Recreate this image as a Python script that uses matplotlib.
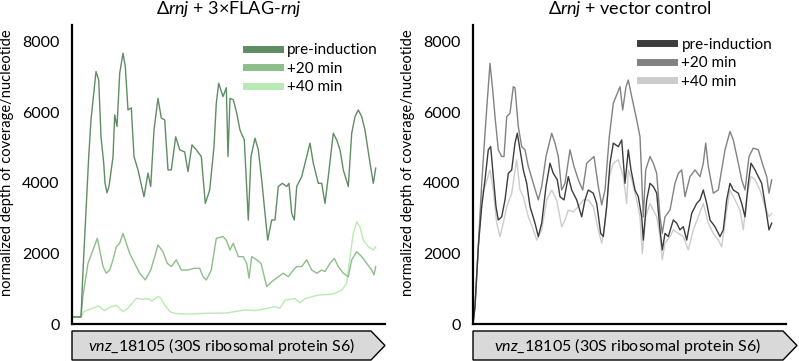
import matplotlib
matplotlib.use('Agg')
import matplotlib.pyplot as plt
import numpy as np
from matplotlib.patches import Polygon

plt.rcParams['font.family'] = ['Lato', 'DejaVu Sans']
plt.rcParams['mathtext.fontset'] = 'custom'
plt.rcParams['mathtext.rm'] = 'Lato'
plt.rcParams['mathtext.it'] = 'Lato:italic'

# coverage traces: [position, normalized depth]
flag_pre = np.array([
    [0, 200], [9, 200], [11, 1500], [16.7, 4740], [19, 5790], [24, 7160], [26.7, 6920], [29, 5310],
    [31.7, 4570], [33, 4000], [35, 3720], [37, 3900], [41, 4740], [42.7, 5930], [45, 5600], [47.7, 7110],
    [51, 7680], [53.3, 7300], [56, 6070], [59.3, 6130], [62, 4750], [66, 4370], [72, 3610], [76, 4280],
    [78.7, 3900], [82, 5500], [86, 6400], [89.3, 5840], [92.7, 5790], [96, 4370], [99.3, 4370], [103.7, 5310],
    [107.7, 4940], [112.7, 4880], [116, 4320], [120, 5080], [124.3, 4940], [129.3, 4750], [133.3, 3420],
    [137.7, 3800], [142, 5030], [144.3, 6260], [146.7, 6830], [151, 6450], [154.3, 6700], [156, 4750],
    [158, 6400], [161.3, 6360], [164.7, 5980], [168, 5500], [172.3, 5220], [176.3, 2950], [179, 4750],
    [183, 5270], [186.3, 4940], [189.7, 4090], [193, 3140], [195.7, 2380], [199.7, 2950], [203, 2950],
    [206.3, 3900], [210.3, 3990], [214.7, 3900], [217, 3990], [219.7, 3140], [222.3, 2950], [224.7, 3900],
    [229.7, 4180], [234.7, 4750], [238, 5130], [241.3, 4560], [246.3, 3990], [249.7, 3990], [253, 3420],
    [256.3, 4180], [261.3, 5410], [264.7, 5220], [268, 4940], [271.3, 4370], [276.3, 3900], [279.7, 5410],
    [283, 5880], [286.3, 6070], [289.7, 5880], [293, 5500], [297, 4750], [301.3, 3990], [303.7, 4420]])
flag_20 = np.array([
    [0, 200], [9, 200], [11, 800], [16, 1720], [21, 2100], [25.3, 2430], [27.7, 2100], [31, 1630],
    [34.3, 1440], [37.7, 1530], [41, 1820], [44.3, 2190], [47.7, 2290], [51, 2570], [54.3, 2290], [57.7, 2000],
    [62.7, 1720], [67.7, 1440], [73.3, 1250], [78.7, 1530], [82.7, 1910], [86, 2240], [91, 2050], [95.3, 1720],
    [99.3, 1630], [104.3, 1820], [109.3, 1530], [116, 1530], [122, 1580], [127.7, 1580], [131, 1340],
    [134.3, 1250], [139.3, 1530], [144.3, 2430], [151, 2480], [154.3, 2380], [158, 2100], [161.3, 2290],
    [166.3, 1910], [171.3, 1910], [174.7, 1720], [177, 1300], [179.7, 1910], [184.7, 1820], [189, 1720],
    [192.3, 1340], [194.7, 1060], [199.7, 1200], [206.3, 1340], [211.3, 1440], [216.3, 1340], [221.3, 1530],
    [224.7, 1630], [229.7, 1630], [234.7, 1820], [239.7, 1530], [244.7, 1440], [249.7, 1530], [253, 1490],
    [258, 1720], [262.3, 1860], [266.3, 1630], [271.3, 1440], [276.3, 1340], [279.7, 1820], [284.7, 2050],
    [289.7, 1910], [294.7, 1720], [299.7, 1530], [302, 1390], [303.7, 1630]])
flag_40 = np.array([
    [0, 200], [9, 200], [12, 350], [16, 400], [21, 450], [26, 510], [32.7, 380], [38, 480], [44.3, 530],
    [51, 350], [56, 450], [64.3, 730], [70, 700], [76, 720], [80, 650], [86, 780], [89, 720], [92.7, 540],
    [98, 350], [102.7, 300], [118, 280], [129.3, 300], [143, 310], [154.3, 310], [173, 400], [183, 380],
    [194.7, 440], [203, 490], [208, 450], [213, 680], [223, 720], [228, 600], [233, 720], [246.3, 820],
    [258, 840], [263, 870], [269.7, 960], [274.7, 1150], [278, 1910], [281.3, 2570], [284.7, 2900],
    [288, 2750], [291.3, 2380], [296.3, 2190], [301.3, 2100], [303.7, 2190]])

vec_pre = np.array([
    [0, 0], [1, 250], [2, 490], [5.3, 2190], [8.7, 3330], [12, 4090], [15.3, 4940], [17.7, 5030], [20.3, 4180],
    [23, 3330], [25.3, 2950], [28.7, 3040], [32, 3520], [35.3, 4270], [38.7, 4370], [42, 5130], [44.3, 5410],
    [47, 4940], [50.3, 4370], [53.7, 3990], [57, 3330], [62, 2860], [65.3, 2480], [68.7, 2860], [73, 3900],
    [77, 4560], [80.3, 4270], [84.3, 4090], [87, 3610], [91, 3520], [95.3, 4180], [98.7, 3800], [103.7, 3520],
    [108.7, 3040], [112, 3520], [115.3, 3800], [120.3, 3710], [123.7, 3420], [127.7, 2570], [130.3, 2480],
    [133.7, 3330], [137, 4560], [140.3, 5130], [145.3, 5030], [148.7, 5220], [152, 3990], [155.3, 4940],
    [158, 4370], [162, 3800], [165.3, 3610], [168.7, 3040], [170.3, 2380], [173.7, 3520], [177, 3990],
    [180.3, 3900], [183.7, 3710], [187, 2670], [189.3, 2100], [192, 2570], [195.3, 2480], [200.3, 2950],
    [203.7, 2860], [207, 2670], [210.3, 2760], [213.7, 2380], [218.7, 3140], [223.7, 3420], [227, 3520],
    [230.3, 3800], [233.7, 3420], [237, 2950], [242, 2760], [247, 2480], [250.3, 2670], [253.7, 3520],
    [257, 3990], [260.3, 3800], [265.3, 3710], [268.7, 3420], [272, 3040], [275.3, 3990], [278, 4560],
    [282, 4370], [285.3, 4180], [288.7, 3990], [292, 3420], [296, 2670], [298.7, 2860]])
vec_20 = np.array([
    [0, 0], [1, 250], [2, 490], [5.3, 2190], [8.7, 3990], [12, 5410], [15.3, 6730], [17, 7390], [19.7, 6640],
    [22, 5880], [25.3, 4940], [28.7, 4750], [31, 4750], [33.7, 5880], [37, 5980], [40.3, 6730], [42, 6700],
    [45.3, 5600], [48.7, 5030], [52, 4940], [55.3, 4470], [60.3, 3990], [65.3, 3520], [68.7, 3900], [73, 4750],
    [78.7, 5410], [82, 5130], [85.3, 4750], [88.7, 3800], [92, 3990], [97, 4940], [101, 4470], [105.3, 4090],
    [109.7, 3800], [113.7, 4560], [121, 4750], [125.3, 3900], [128.7, 3380], [132, 3800], [136.3, 5310],
    [140.3, 6260], [143.7, 6500], [147, 6730], [149.7, 6070], [153, 6730], [155.3, 6920], [158.7, 6450],
    [163.7, 5790], [167, 5310], [170.3, 3040], [172.7, 4370], [177, 4750], [180.3, 4560], [183.7, 4270],
    [187, 3040], [189.3, 2570], [192, 3040], [197, 3230], [202, 3990], [205.3, 4270], [208.7, 4370],
    [212, 3610], [217, 4180], [222, 4370], [227, 4180], [230.3, 4560], [232.7, 5130], [235.3, 4470],
    [240.3, 3710], [245.3, 3800], [252, 4940], [257, 5460], [260.3, 5220], [265.3, 4560], [268.7, 4090],
    [272, 3800], [276, 4750], [280.3, 4990], [285.3, 4940], [289.3, 4560], [293.7, 4180], [296, 3710],
    [298.7, 4090]])
vec_40 = np.array([
    [0, 0], [1, 250], [2, 490], [5.3, 2190], [8.7, 3710], [12, 3900], [17, 4370], [20.3, 3800], [23.7, 2860],
    [27, 2480], [30.3, 2860], [33.7, 3330], [38.7, 3710], [43.7, 4660], [47, 3800], [50.3, 3610], [55.3, 3040],
    [60.3, 2670], [63.7, 2380], [68.7, 2670], [73.7, 3520], [78.7, 3800], [83.7, 3520], [88.7, 2760],
    [92, 2950], [95.3, 3230], [100.3, 3180], [105.3, 3330], [110.3, 3520], [115.3, 3520], [120.3, 3330],
    [125.3, 2670], [128.7, 2290], [132, 2860], [136.3, 4180], [140.3, 4560], [145.3, 4660], [150.3, 4180],
    [153.7, 3420], [155.3, 4370], [158.7, 4090], [163.7, 3520], [167, 3040], [169.3, 2000], [172.7, 3040],
    [177, 3420], [180.3, 3230], [183.7, 3040], [187, 2480], [189.3, 1820], [192, 2290], [197, 2480],
    [200.3, 2670], [205.3, 2570], [210.3, 2480], [215.3, 2100], [220.3, 2670], [225.3, 3040], [230.3, 3420],
    [235.3, 2860], [240.3, 2570], [245.3, 2380], [248.7, 2190], [253.7, 3230], [257, 3800], [262, 3520],
    [267, 3230], [270.3, 2670], [273.7, 3610], [278, 4180], [282, 4090], [287, 3800], [292, 3330],
    [296, 3040], [298.7, 3140]])

labels = ['pre-induction', '+20 min', '+40 min']
yticks = [0, 2000, 4000, 6000, 8000]
gene_text = r'$\mathit{vnz\_18105}$ (30S ribosomal protein S6)'

W, H = 799, 361
fig = plt.figure(figsize=(W / 100, H / 100), dpi=100)


def fx(px):
    return px / W


def fy(py):
    return 1 - py / H


panels = [
    dict(x0=72, title=r'$\Delta\mathit{rnj}$ + 3×FLAG-$\mathit{rnj}$',
         series=[flag_pre, flag_20, flag_40],
         colors=['#5f8d62', '#8cbf88', '#b9eab2'], leg=(0.556, 0.94), tip=385),
    dict(x0=473, title=r'$\Delta\mathit{rnj}$ + vector control',
         series=[vec_pre, vec_20, vec_40],
         colors=['#3c3c3c', '#828282', '#cccccc'], leg=(0.534, 0.958), tip=797),
]

for p in panels:
    ax = fig.add_axes([fx(p['x0']), fy(324), 313 / W, 299 / H])
    for data, c, lab in reversed(list(zip(p['series'], p['colors'], labels))):
        ax.plot(data[:, 0], data[:, 1], color=c, lw=1.0, label=lab)
    ax.set_xlim(0, 313)
    ax.set_ylim(0, 8480)
    ax.set_yticks(yticks)
    ax.set_xticks([])
    ax.tick_params(axis='y', length=0, pad=9, labelsize=11.5)
    for s in ['top', 'right']:
        ax.spines[s].set_visible(False)
    for s in ['left', 'bottom']:
        ax.spines[s].set_linewidth(1.6)
    ax.set_ylabel('normalized depth of coverage/nucleotide', fontsize=10.5)
    ax.yaxis.set_label_coords(-0.185, 0.54)
    ax.set_title(p['title'], fontsize=13, pad=8)
    h, l = ax.get_legend_handles_labels()
    leg = ax.legend(h[::-1], l[::-1], loc='upper left', bbox_to_anchor=p['leg'], frameon=False,
                    fontsize=11, handlelength=2.2, handletextpad=0.5, labelspacing=0.3,
                    borderaxespad=0, borderpad=0)
    for line in leg.get_lines():
        line.set_linewidth(5)

    # gene arrow under the panel
    x0, tip = p['x0'], p['tip']
    pts = [(x0, 331), (tip - 14, 331), (tip, 345.5), (tip - 14, 360), (x0, 360)]
    poly = Polygon([(fx(a), fy(b)) for a, b in pts], closed=True, transform=fig.transFigure,
                   facecolor='#d9d9d9', edgecolor='black', lw=1.0)
    fig.add_artist(poly)
    fig.text(fx((x0 + tip - 14) / 2), fy(345.5), gene_text, ha='center', va='center', fontsize=11.5)

fig.savefig('out.png', dpi=100)
